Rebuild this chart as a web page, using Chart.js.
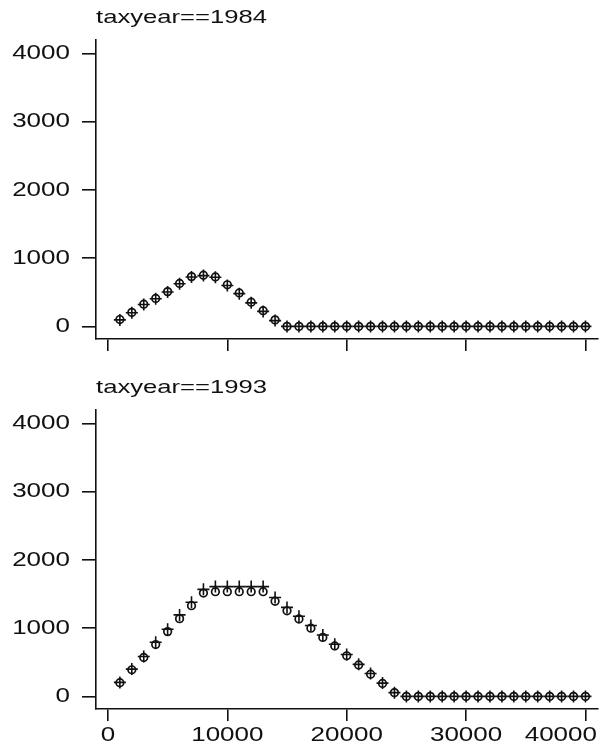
<!DOCTYPE html>
<html>
<head>
<meta charset="utf-8">
<script src="https://cdn.jsdelivr.net/npm/chart.js@4/dist/chart.umd.min.js"></script>
<style>
  html, body { margin: 0; padding: 0; background: #fff; }
  .panel { position: absolute; left: 0; width: 602px; }
  #top { top: 0; height: 370px; }
  #bottom { top: 370px; height: 382px; }
</style>
</head>
<body>
<div class="panel" id="top"><canvas id="c1984"></canvas></div>
<div class="panel" id="bottom"><canvas id="c1993"></canvas></div>
<script>
// income bins (x), credit amounts per tax year; circles and pluses are the two series
var income = [1000, 2000, 3000, 4000, 5000, 6000, 7000, 8000, 9000, 10000,
  11000, 12000, 13000, 14000, 15000, 16000, 17000, 18000, 19000, 20000,
  21000, 22000, 23000, 24000, 25000, 26000, 27000, 28000, 29000, 30000,
  31000, 32000, 33000, 34000, 35000, 36000, 37000, 38000, 39000, 40000];

var circles1984 = [100, 205, 325, 410, 510, 630, 730, 750, 725, 610,
  490, 355, 230, 95, 0, 0, 0, 0, 0, 0,
  0, 0, 0, 0, 0, 0, 0, 0, 0, 0,
  0, 0, 0, 0, 0, 0, 0, 0, 0, 0];
var pluses1984 = [95, 200, 320, 405, 505, 625, 725, 745, 720, 600,
  480, 345, 220, 85, 0, 0, 0, 0, 0, 0,
  0, 0, 0, 0, 0, 0, 0, 0, 0, 0,
  0, 0, 0, 0, 0, 0, 0, 0, 0, 0];

var circles1993 = [200, 390, 570, 760, 950, 1140, 1330, 1515, 1535, 1535,
  1535, 1535, 1535, 1395, 1255, 1135, 1000, 865, 740, 595,
  460, 325, 190, 55, 0, 0, 0, 0, 0, 0,
  0, 0, 0, 0, 0, 0, 0, 0, 0, 0];
var pluses1993 = [205, 400, 585, 795, 985, 1195, 1380, 1570, 1610, 1610,
  1610, 1610, 1610, 1450, 1305, 1175, 1040, 900, 765, 615,
  470, 335, 195, 55, 0, 0, 0, 0, 0, 0,
  0, 0, 0, 0, 0, 0, 0, 0, 0, 0];

var xTicks = [0, 10000, 20000, 30000, 40000];
var yTicks = [0, 1000, 2000, 3000, 4000];
var panelTitles = ['taxyear==1984', 'taxyear==1993'];

var fontFamily = '"Liberation Sans", Arial, sans-serif';
var ink = '#111';
// Stata's text is wide; stretch canvas text per font size
var textStretch = { 20: 1.3, 19: 1.35 };

var wideText = {
  id: 'wideText',
  beforeInit: function (chart) {
    var ctx = chart.ctx;
    var fill = ctx.fillText;
    ctx.fillText = function (text, x, y) {
      var m = /(\d+)px/.exec(this.font);
      var sx = (m && textStretch[m[1]]) || 1;
      var w = this.measureText(text).width * sx;
      if (this.textAlign === 'center') {
        // keep centred labels inside the canvas, like the last x label
        var absX = this.getTransform().e + x;
        var over = absX + w / 2 - (chart.width - 5);
        if (over > 0) x -= over;
      }
      this.save();
      this.translate(x, y);
      this.scale(sx, 1);
      fill.call(this, text, 0, 0);
      this.restore();
    };
  }
};

function points(ys) {
  return income.map(function (x, i) { return { x: x, y: ys[i] }; });
}

function plain(v) { return String(v); }

function makePanel(id, title, circles, pluses, height, showXLabels) {
  new Chart(document.getElementById(id), {
    type: 'scatter',
    data: {
      datasets: [{
        data: points(circles),
        pointStyle: 'circle',
        pointRadius: 3.8,
        pointBorderWidth: 1.7,
        pointBorderColor: ink,
        pointBackgroundColor: 'rgba(0,0,0,0)'
      }, {
        data: points(pluses),
        pointStyle: 'cross',
        pointRadius: 6,
        pointBorderWidth: 1.6,
        pointBorderColor: ink,
        pointBackgroundColor: 'rgba(0,0,0,0)'
      }]
    },
    options: {
      responsive: true,
      maintainAspectRatio: false,
      animation: false,
      events: [],
      layout: { padding: { top: 0, left: 0, right: 4, bottom: 0 }, autoPadding: false },
      plugins: {
        legend: { display: false },
        tooltip: { enabled: false },
        title: {
          display: true,
          text: title,
          align: 'start',
          fullSize: false,
          color: ink,
          font: { family: fontFamily, size: 19, weight: 'normal' },
          padding: { top: 6.5, bottom: 10.7 }
        }
      },
      scales: {
        x: {
          type: 'linear',
          min: -1000,
          max: 41050,
          afterBuildTicks: function (s) { s.ticks = xTicks.map(function (v) { return { value: v }; }); },
          afterFit: function (s) {
            s.height = height - 339;
            s.paddingLeft = 0;
            s.paddingRight = 0;
          },
          border: { display: true, color: ink, width: 1.6 },
          grid: { drawOnChartArea: false, drawTicks: true, tickLength: 12, color: ink, lineWidth: 1.6 },
          ticks: {
            display: showXLabels,
            callback: plain,
            color: ink,
            font: { family: fontFamily, size: 20 },
            padding: 2,
            maxRotation: 0,
            autoSkip: false
          }
        },
        y: {
          type: 'linear',
          min: -185,
          max: 4200,
          afterBuildTicks: function (s) { s.ticks = yTicks.map(function (v) { return { value: v }; }); },
          afterFit: function (s) {
            s.width = 96;
            s.paddingTop = 0;
            s.paddingBottom = 0;
          },
          border: { display: true, color: ink, width: 1.6 },
          grid: { drawOnChartArea: false, drawTicks: true, tickLength: 14, color: ink, lineWidth: 1.6 },
          ticks: {
            callback: plain,
            color: ink,
            font: { family: fontFamily, size: 20 },
            padding: 12,
            autoSkip: false
          }
        }
      }
    },
    plugins: [wideText]
  });
}

makePanel('c1984', panelTitles[0], circles1984, pluses1984, 370, false);
makePanel('c1993', panelTitles[1], circles1993, pluses1993, 382, true);
</script>
</body>
</html>
